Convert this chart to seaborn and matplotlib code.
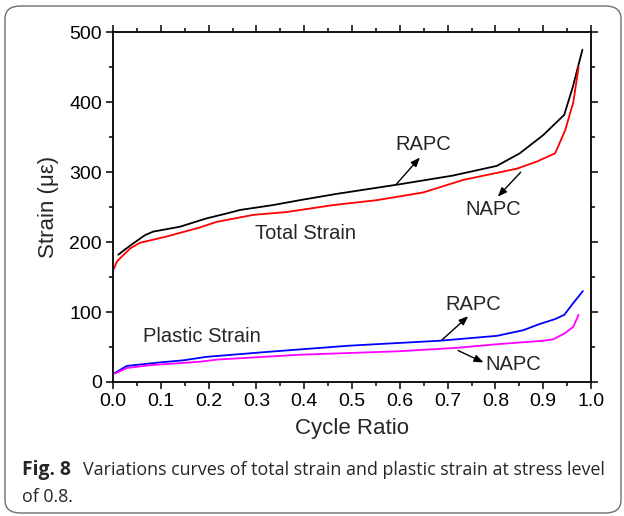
import numpy as np
import pandas as pd
import seaborn as sns
import matplotlib
matplotlib.use("Agg")
import matplotlib.pyplot as plt
from matplotlib.patches import FancyBboxPatch
from matplotlib.ticker import MultipleLocator

# ---- data ----
total_rapc_x = [0.011, 0.03, 0.042, 0.067, 0.084, 0.140, 0.196, 0.238, 0.266, 0.335, 0.391,
                0.468, 0.593, 0.710, 0.803, 0.851, 0.900, 0.944, 0.962, 0.982]
total_rapc_y = [182, 192, 198, 210, 215, 222, 234, 241, 246, 253, 260,
                269, 282, 295, 309, 327, 353, 382, 422, 475]

total_napc_x = [0.002, 0.008, 0.015, 0.036, 0.056, 0.112, 0.182, 0.217, 0.294, 0.363, 0.461,
                0.552, 0.649, 0.733, 0.803, 0.845, 0.886, 0.925, 0.946, 0.963, 0.974]
total_napc_y = [162, 172, 177, 191, 199, 208, 221, 229, 239, 243, 253,
                260, 271, 289, 299, 305, 315, 327, 360, 400, 450]

plastic_rapc_x = [0.004, 0.029, 0.098, 0.147, 0.196, 0.322, 0.496, 0.684, 0.803, 0.858,
                  0.893, 0.925, 0.944, 0.963, 0.983]
plastic_rapc_y = [13, 23, 28, 31, 36, 43, 52, 59, 66, 74, 83, 90, 96, 113, 130]

plastic_napc_x = [0.004, 0.029, 0.077, 0.182, 0.217, 0.391, 0.600, 0.722, 0.803, 0.900,
                  0.921, 0.946, 0.963, 0.974]
plastic_napc_y = [12, 20, 24, 29, 32, 39, 44, 49, 54, 59, 61, 70, 79, 96]

series_names = ["Total RAPC", "Total NAPC", "Plastic RAPC", "Plastic NAPC"]
series_colors = ["#000000", "#ff0000", "#0000ff", "#ff00ff"]

x_ticks = [0.0, 0.1, 0.2, 0.3, 0.4, 0.5, 0.6, 0.7, 0.8, 0.9, 1.0]
y_ticks = [0, 100, 200, 300, 400, 500]

caption_bold = "Fig. 8"
caption_line1 = "Variations curves of total strain and plastic strain at stress level"
caption_line2 = "of 0.8."

# ---- build long table ----
frames = []
for name, xs, ys in zip(series_names,
                        [total_rapc_x, total_napc_x, plastic_rapc_x, plastic_napc_x],
                        [total_rapc_y, total_napc_y, plastic_rapc_y, plastic_napc_y]):
    frames.append(pd.DataFrame({"x": xs, "y": ys, "series": name}))
df = pd.concat(frames, ignore_index=True)

sns.set_theme(style="ticks")
plt.rcParams["font.family"] = ["Liberation Sans", "DejaVu Sans"]

W, H = 624, 516
fig = plt.figure(figsize=(W / 100, H / 100), dpi=100)
fig.patch.set_facecolor("white")

# rounded border
box = FancyBboxPatch((5 / W, 3 / H), 616 / W, 507 / H,
                     boxstyle="round,pad=0,rounding_size=0.025",
                     transform=fig.transFigure, fill=False,
                     edgecolor="#6e6e6e", linewidth=1.0, clip_on=False)
fig.add_artist(box)

ax = fig.add_axes([113 / W, (H - 382) / H, (591 - 113) / W, (382 - 32.3) / H])
sns.lineplot(data=df, x="x", y="y", hue="series", hue_order=series_names,
             palette=dict(zip(series_names, series_colors)), sort=False,
             estimator=None, linewidth=1.3, legend=False, ax=ax)

ax.set_xlim(0, 1.0)
ax.set_ylim(0, 500)
ax.set_xticks(x_ticks)
ax.set_xticklabels([f"{v:.1f}" for v in x_ticks])
ax.set_yticks(y_ticks)
ax.set_yticklabels([str(v) for v in y_ticks])
ax.xaxis.set_minor_locator(MultipleLocator(0.05))
ax.yaxis.set_minor_locator(MultipleLocator(50))
ax.tick_params(which="both", direction="out", top=True, right=True,
               labeltop=False, labelright=False, color="black", width=1.1)
ax.tick_params(which="major", length=5, labelsize=14, pad=3, labelcolor="black")
ax.tick_params(which="minor", length=3)
for s in ax.spines.values():
    s.set_linewidth(1.3)
    s.set_color("black")
ax.set_xlabel("Cycle Ratio", fontsize=16, labelpad=6)
ax.set_ylabel("Strain (με)", fontsize=16, labelpad=7)
ax.grid(False)

arrow = dict(arrowstyle="-|>,head_length=0.45,head_width=0.18", color="black", lw=1.0,
             shrinkA=0, shrinkB=0)
fs = 14.5
ax.annotate("", xy=(0.642, 321), xytext=(0.593, 283), arrowprops=arrow)
ax.text(0.649, 340, "RAPC", fontsize=fs, ha="center", va="center")
ax.annotate("", xy=(0.805, 265), xytext=(0.853, 300), arrowprops=arrow)
ax.text(0.796, 247, "NAPC", fontsize=fs, ha="center", va="center")
ax.text(0.402, 212, "Total Strain", fontsize=fs, ha="center", va="center")
ax.text(0.186, 65, "Plastic Strain", fontsize=fs, ha="center", va="center")
ax.annotate("", xy=(0.743, 94), xytext=(0.688, 60), arrowprops=arrow)
ax.text(0.754, 111, "RAPC", fontsize=fs, ha="center", va="center")
ax.annotate("", xy=(0.775, 28), xytext=(0.722, 45), arrowprops=arrow)
ax.text(0.837, 25, "NAPC", fontsize=fs, ha="center", va="center")

# caption (sizes fitted to the reference's text extents)
cap_font = ["Open Sans", "DejaVu Sans"]
x0, bold_end, reg_start, reg_end = 21.7, 71.0, 82.7, 602.7
y1 = 1 - 475 / H
y2 = 1 - 502 / H
fig.canvas.draw()
r = fig.canvas.get_renderer()

tb = fig.text(x0 / W, y1, caption_bold, fontsize=12, fontweight="bold",
              family=cap_font, va="baseline", ha="left")
tr = fig.text(reg_start / W, y1, caption_line1, fontsize=12,
              family=cap_font, va="baseline", ha="left")
for t, target in ((tb, bold_end - x0), (tr, reg_end - reg_start)):
    e = t.get_window_extent(renderer=r)
    t.set_fontsize(12 * target / e.width)
fig.text(x0 / W, y2, caption_line2, fontsize=tr.get_fontsize(), family=cap_font,
         va="baseline", ha="left")

fig.savefig("out.png", dpi=100, facecolor="white")
